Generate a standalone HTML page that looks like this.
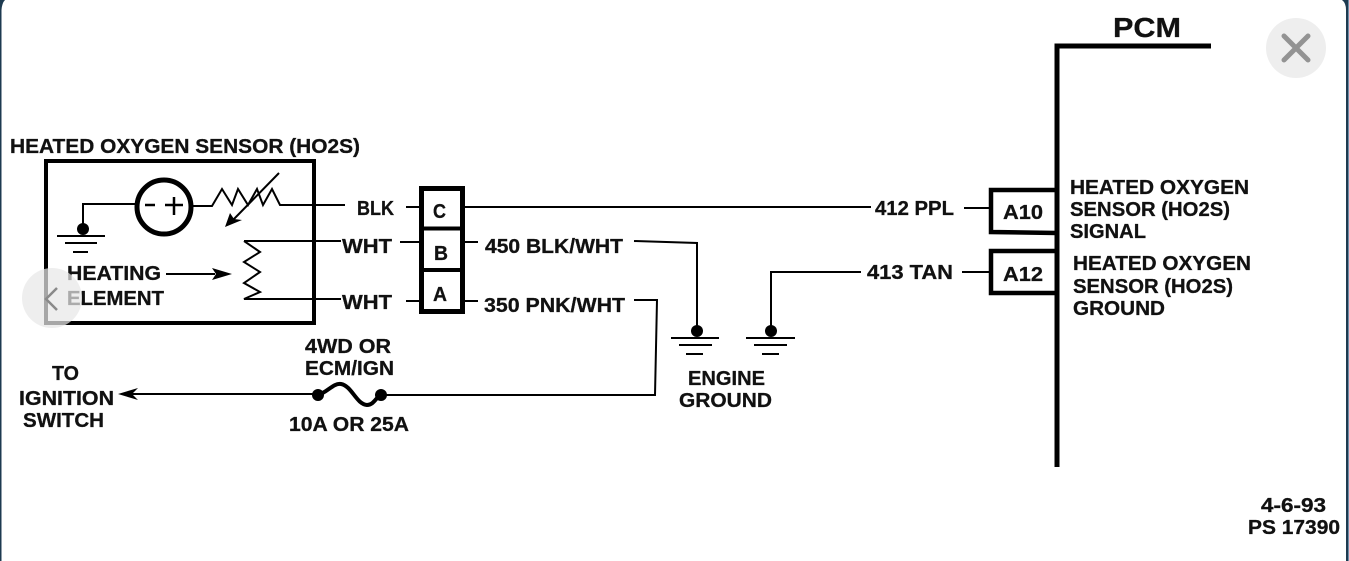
<!DOCTYPE html>
<html><head><meta charset="utf-8"><style>
html,body{margin:0;padding:0;width:1349px;height:561px;overflow:hidden;background:#fff}
svg{display:block}
text{font-family:"Liberation Sans",sans-serif;font-weight:700;font-size:20.5px;fill:#111;stroke:#111;stroke-width:.3px}
</style></head><body>
<svg width="1349" height="561" viewBox="0 0 1349 561" xmlns="http://www.w3.org/2000/svg">
<rect width="1349" height="561" fill="#6f8ea8"/>
<path d="M0 0H1348V561H0Z" fill="#1d3a50"/>
<path d="M1.5 561V10Q2 3 5 0H1342Q1346 3 1346 10V561Z" fill="#fff"/>
<g fill="none" stroke="#000" stroke-linecap="butt" stroke-linejoin="miter">
<!-- sensor box -->
<rect x="46" y="161" width="268" height="162" stroke-width="4"/>
<!-- sensor internals -->
<path d="M83 225V204H136" stroke-width="2"/>
<circle cx="164" cy="207" r="27" stroke-width="5"/>
<path d="M145 205H155M165 205H183M174 197V215" stroke-width="2.5"/>
<path d="M193 206H212L222 189L232 205L238 189L248 205L257 189L263 205L272 189L280 205H345" stroke-width="2"/>
<path d="M279 173L232 221" stroke-width="2"/>
<path d="M244 241H341M244 241L260 252L244 262L260 272L244 283L260 292L244 299H341" stroke-width="2"/>
<path d="M166 274H215" stroke-width="2"/>
<!-- sensor ground -->
<path d="M57 236H105M65 243H97M73 252H88" stroke-width="2"/>
<!-- connector block -->
<rect x="421.5" y="188.5" width="41" height="123" stroke-width="5"/>
<path d="M421 228.500H463M421 270H463" stroke-width="4"/>
<path d="M406 207H420M400 242H420M406 301H420" stroke-width="2"/>
<!-- wires -->
<path d="M465 207H871" stroke-width="2"/>
<path d="M465 242H478M465 301H478" stroke-width="2"/>
<path d="M634 241L697 243V330" stroke-width="2"/>
<path d="M634 300H657L655 395H386" stroke-width="2"/>
<path d="M771 330V272H861" stroke-width="2"/>
<path d="M964 208H990M962 272H990" stroke-width="2"/>
<!-- engine grounds -->
<path d="M671 338H719M679 345H712M686 354H703" stroke-width="2"/>
<path d="M746 338H795M754 345H787M762 354H779" stroke-width="2"/>
<!-- fuse -->
<path d="M318 395C328 392 333 383 341 384C352 386 356 404 367 405C374 405 376 397 381 395" stroke-width="4"/>
<path d="M125 394H318" stroke-width="2"/>
<!-- PCM -->
<path d="M1211 46H1057V467" stroke-width="5"/>
<path d="M1057 190H991V232L1057 233" stroke-width="4.5"/>
<path d="M1057 251H991V293H1057" stroke-width="4.5"/>
</g>
<!-- filled bits -->
<g fill="#000">
<circle cx="83" cy="229" r="6"/>
<circle cx="697" cy="331" r="6"/>
<circle cx="771" cy="331" r="6"/>
<circle cx="318" cy="395" r="6"/>
<circle cx="381" cy="395" r="6"/>
<path d="M225 227L230 213L234 219L242 220Z"/>
<path d="M232 274L212 268L216 274L212 280Z"/>
<path d="M118 394L138 388L132 394L138 400Z"/>
</g>
<!-- text -->
<g>
<text x="10" y="153" textLength="350" lengthAdjust="spacingAndGlyphs">HEATED OXYGEN SENSOR (HO2S)</text>
<text x="67" y="280" textLength="94" lengthAdjust="spacingAndGlyphs">HEATING</text>
<text x="67" y="305" textLength="97" lengthAdjust="spacingAndGlyphs">ELEMENT</text>
<text x="357" y="215" textLength="37" lengthAdjust="spacingAndGlyphs">BLK</text>
<text x="342" y="253" textLength="50" lengthAdjust="spacingAndGlyphs">WHT</text>
<text x="342" y="309" textLength="50" lengthAdjust="spacingAndGlyphs">WHT</text>
<text x="433" y="218" textLength="13" lengthAdjust="spacingAndGlyphs">C</text>
<text x="434" y="260" textLength="14" lengthAdjust="spacingAndGlyphs">B</text>
<text x="433" y="301" textLength="14" lengthAdjust="spacingAndGlyphs">A</text>
<text x="485" y="253" textLength="138" lengthAdjust="spacingAndGlyphs">450 BLK/WHT</text>
<text x="484" y="312" textLength="141" lengthAdjust="spacingAndGlyphs">350 PNK/WHT</text>
<text x="875" y="215" textLength="79" lengthAdjust="spacingAndGlyphs">412 PPL</text>
<text x="867" y="279" textLength="86" lengthAdjust="spacingAndGlyphs">413 TAN</text>
<text x="1003" y="219" textLength="40" lengthAdjust="spacingAndGlyphs">A10</text>
<text x="1003" y="281" textLength="40" lengthAdjust="spacingAndGlyphs">A12</text>
<text x="1113" y="37" textLength="68" lengthAdjust="spacingAndGlyphs" style="font-size:28px">PCM</text>
<text x="1070" y="194" textLength="179" lengthAdjust="spacingAndGlyphs">HEATED OXYGEN</text>
<text x="1070" y="216" textLength="160" lengthAdjust="spacingAndGlyphs">SENSOR (HO2S)</text>
<text x="1070" y="238" textLength="76" lengthAdjust="spacingAndGlyphs">SIGNAL</text>
<text x="1073" y="270" textLength="178" lengthAdjust="spacingAndGlyphs">HEATED OXYGEN</text>
<text x="1073" y="293" textLength="160" lengthAdjust="spacingAndGlyphs">SENSOR (HO2S)</text>
<text x="1073" y="315" textLength="92" lengthAdjust="spacingAndGlyphs">GROUND</text>
<text x="305" y="353" textLength="86" lengthAdjust="spacingAndGlyphs">4WD OR</text>
<text x="305" y="375" textLength="89" lengthAdjust="spacingAndGlyphs">ECM/IGN</text>
<text x="289" y="431" textLength="120" lengthAdjust="spacingAndGlyphs">10A OR 25A</text>
<text x="52" y="380" textLength="27" lengthAdjust="spacingAndGlyphs">TO</text>
<text x="19" y="405" textLength="95" lengthAdjust="spacingAndGlyphs">IGNITION</text>
<text x="23" y="427" textLength="81" lengthAdjust="spacingAndGlyphs">SWITCH</text>
<text x="688" y="385" textLength="77" lengthAdjust="spacingAndGlyphs">ENGINE</text>
<text x="679" y="407" textLength="93" lengthAdjust="spacingAndGlyphs">GROUND</text>
<text x="1261" y="512" textLength="65" lengthAdjust="spacingAndGlyphs">4-6-93</text>
<text x="1248" y="534" textLength="92" lengthAdjust="spacingAndGlyphs">PS 17390</text>
</g>
<!-- overlay buttons -->
<circle cx="1296" cy="48" r="30" fill="#eeeeee"/>
<path d="M1284 36L1308 60M1308 36L1284 60" stroke="#939393" stroke-width="5" stroke-linecap="round" fill="none"/>
<circle cx="52" cy="298" r="30" fill="#e8e8e8" fill-opacity="0.72"/>
<path d="M57 288L46 299L57 310" stroke="#8a8a8a" stroke-width="2.5" fill="none"/>
</svg>
</body></html>
